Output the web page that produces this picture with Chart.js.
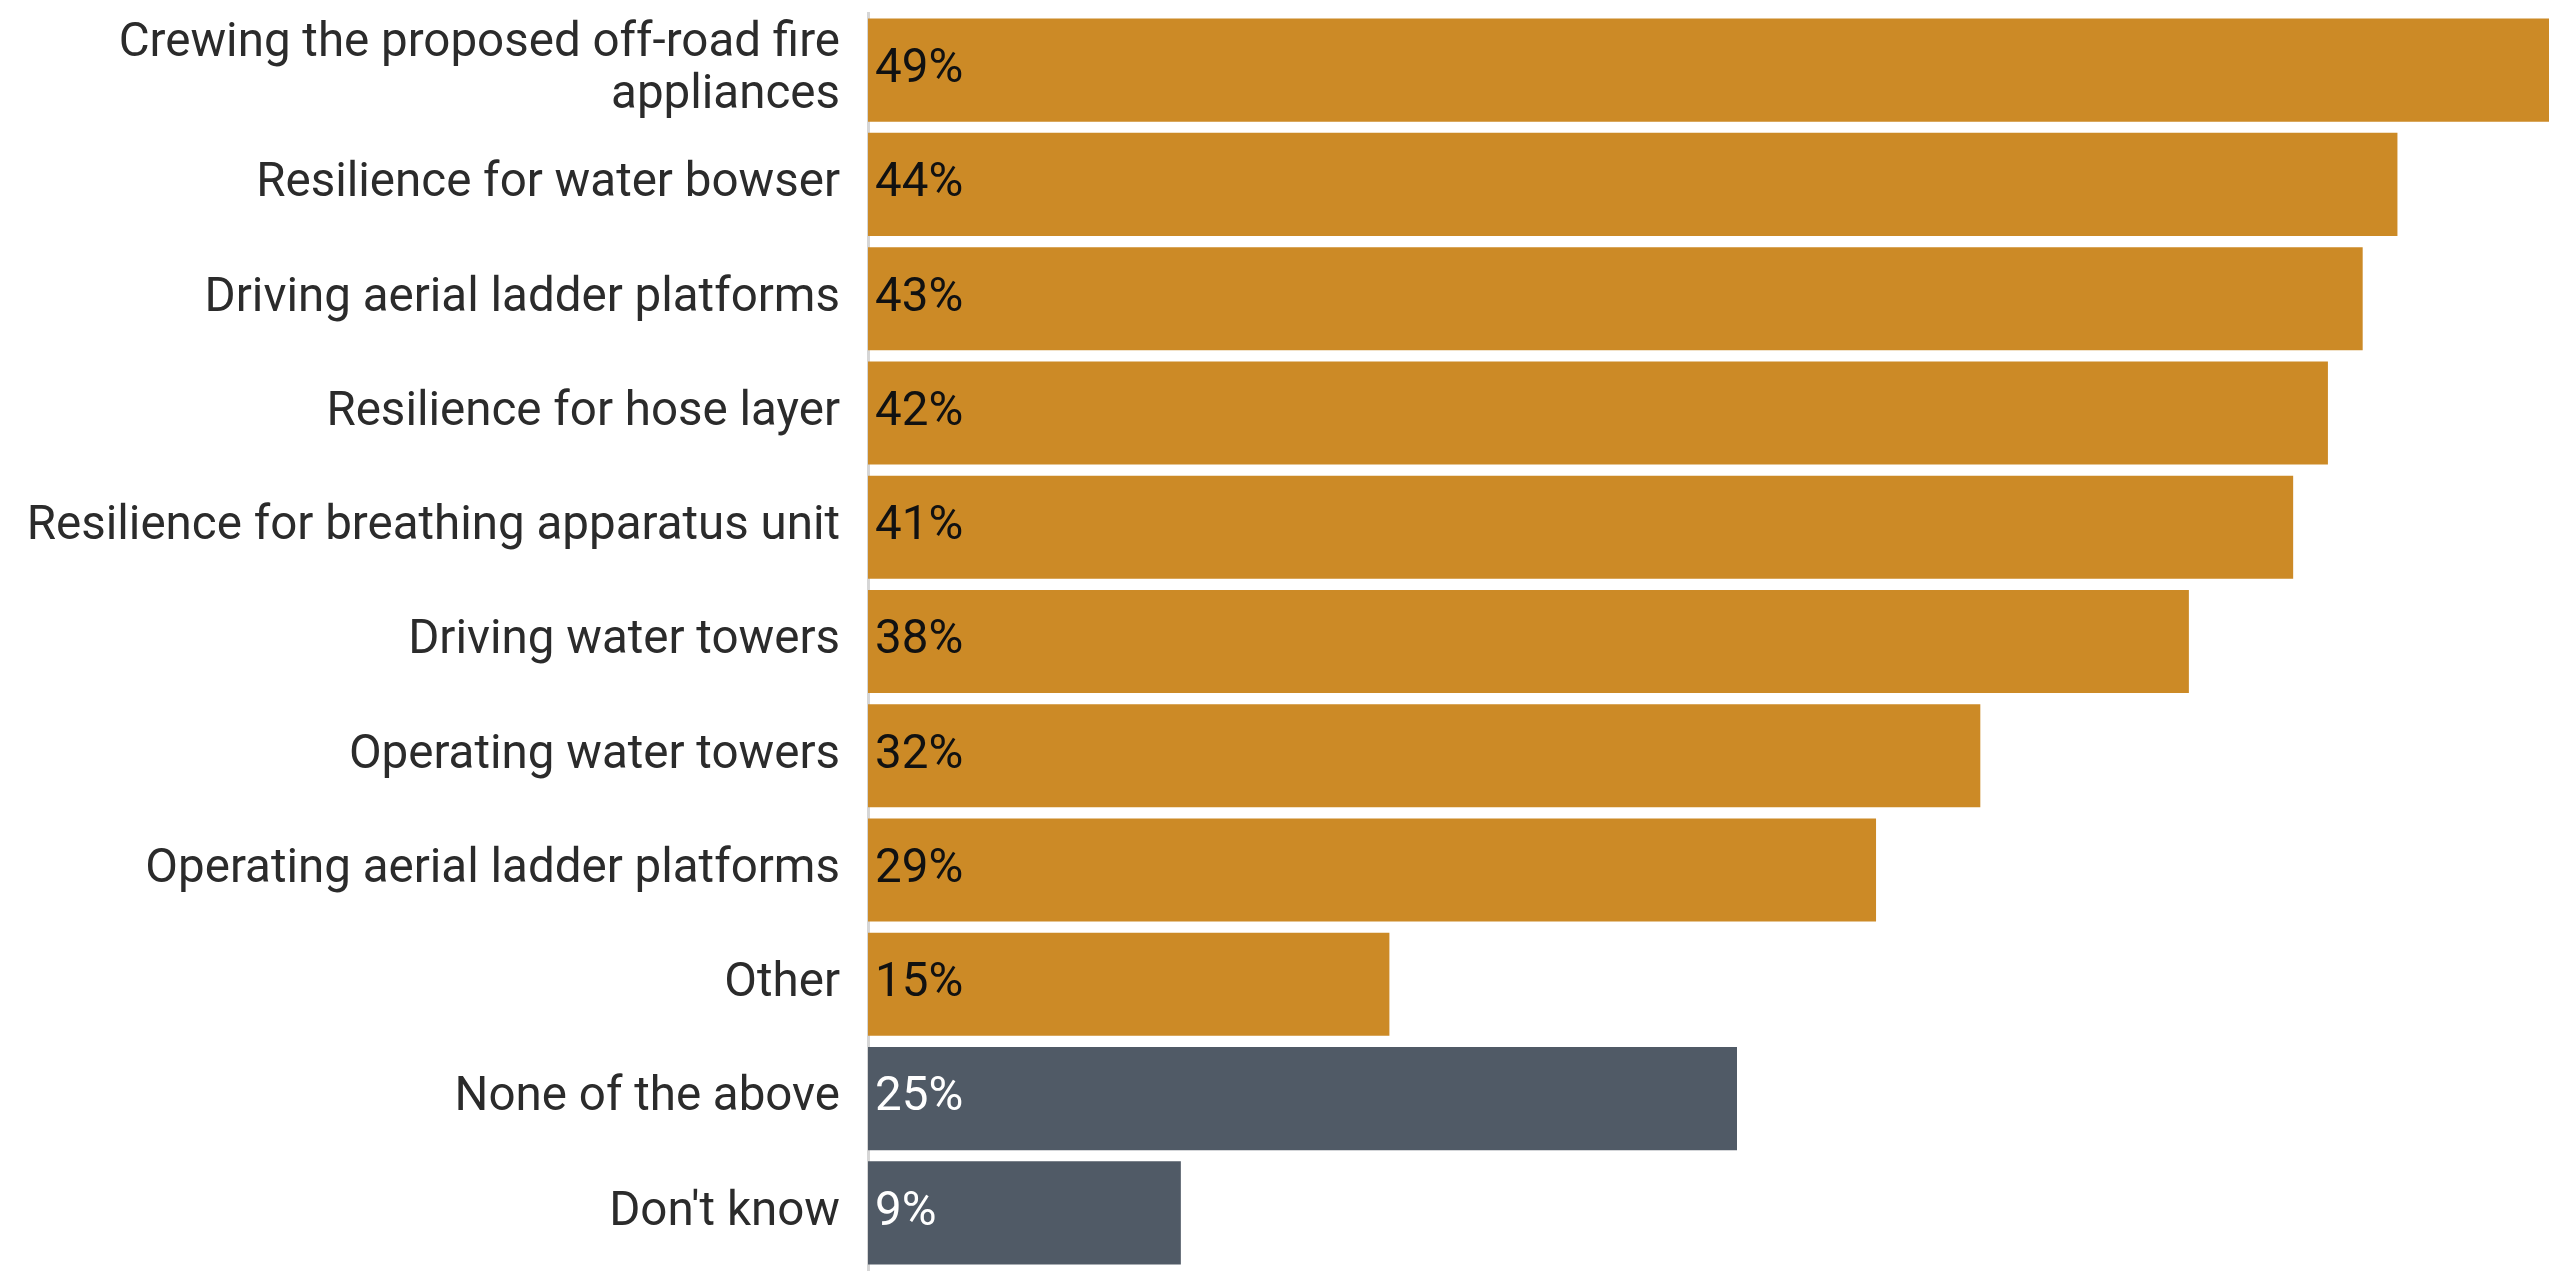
<!DOCTYPE html>
<html>
<head>
<meta charset="utf-8">
<title>Roles</title>
<script src="https://cdn.jsdelivr.net/npm/chart.js@4"></script>
<style>
    html, body { margin: 0; padding: 0; background: #ffffff; overflow: hidden; }
    #wrap { width: 2606px; height: 1273px; }
</style>
</head>
<body>
<div id="wrap"><canvas id="roles-chart" width="2606" height="1273"></canvas></div>
<script>
var categories = [
    ["Crewing the proposed off-road fire", "appliances"],
    "Resilience for water bowser",
    "Driving aerial ladder platforms",
    "Resilience for hose layer",
    "Resilience for breathing apparatus unit",
    "Driving water towers",
    "Operating water towers",
    "Operating aerial ladder platforms",
    "Other",
    "None of the above",
    "Don't know"
];
var values = [49, 44, 43, 42, 41, 38, 32, 29, 15, 25, 9];
var neutralAnswers = ["None of the above", "Don't know"];

document.addEventListener("DOMContentLoaded", function () {
    var ctx = document.getElementById("roles-chart").getContext("2d");

    var isNeutral = categories.map(function (c) {
        return neutralAnswers.indexOf(c) !== -1;
    });

    // percentage text at the start of each bar
    var valueLabels = {
        id: "valueLabels",
        afterDatasetsDraw: function (chart) {
            var c = chart.ctx;
            var meta = chart.getDatasetMeta(0);
            c.save();
            c.font = "47.5px Roboto";
            c.textAlign = "left";
            c.textBaseline = "middle";
            meta.data.forEach(function (bar, i) {
                c.fillStyle = isNeutral[i] ? "#ffffff" : "#111111";
                c.fillText(values[i] + "%", bar.base + 7, bar.y);
            });
            c.restore();
        }
    };

    new Chart(ctx, {
        type: "bar",
        data: {
            labels: categories,
            datasets: [{
                data: values,
                backgroundColor: isNeutral.map(function (n) { return n ? "#505a66" : "#cc8a26"; }),
                borderWidth: 0,
                categoryPercentage: 1,
                barPercentage: 0.902
            }]
        },
        options: {
            indexAxis: "y",
            responsive: false,
            animation: false,
            layout: { padding: { top: 13, bottom: 3, left: 0, right: 0 } },
            plugins: {
                legend: { display: false },
                tooltip: { enabled: false }
            },
            scales: {
                x: {
                    display: false,
                    min: 0,
                    max: 50
                },
                y: {
                    grid: { display: false, drawTicks: false },
                    border: { display: true, color: "#d6d6d6", width: 3 },
                    ticks: {
                        color: "#2b2b2b",
                        padding: 28,
                        font: { family: "Roboto", size: 47.5, lineHeight: 1.1 }
                    },
                    afterFit: function (scale) {
                        // labels sit inside their bands, no extra room needed
                        scale.width = 868;
                        scale.paddingTop = 0;
                        scale.paddingBottom = 0;
                    }
                }
            }
        },
        plugins: [valueLabels]
    });
});
</script>
</body>
</html>
